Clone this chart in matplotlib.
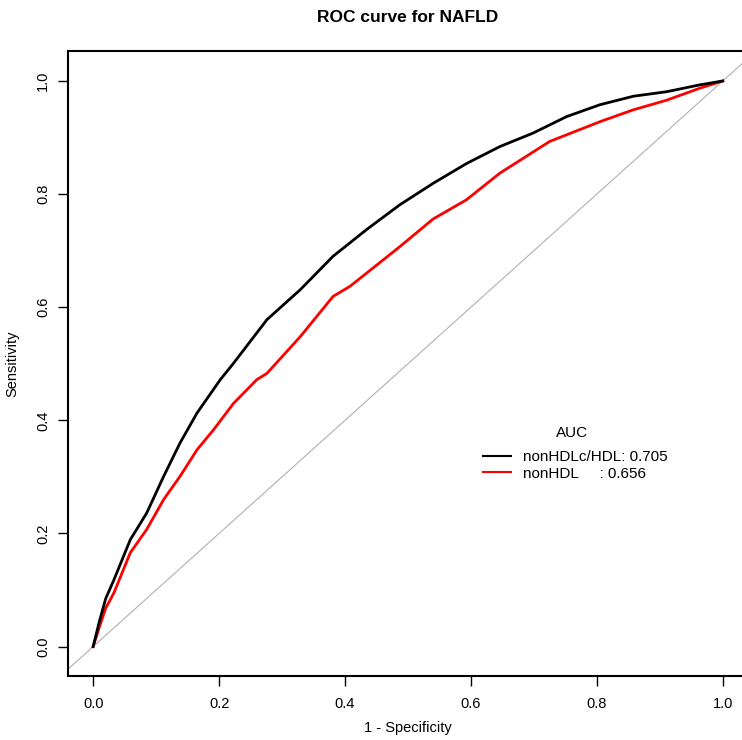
import numpy as np
import matplotlib.pyplot as plt

plt.rcParams['font.family'] = ['Liberation Sans', 'DejaVu Sans']

# ROC points (1 - specificity, sensitivity)
fpr_ratio = [0.0, 0.010, 0.020, 0.033, 0.059, 0.085, 0.112, 0.138, 0.165, 0.202, 0.223,
             0.276, 0.329, 0.381, 0.434, 0.487, 0.540, 0.593, 0.646, 0.699, 0.752,
             0.805, 0.858, 0.911, 0.963, 1.0]
tpr_ratio = [0.0, 0.045, 0.085, 0.118, 0.189, 0.236, 0.301, 0.360, 0.413, 0.472, 0.501,
             0.578, 0.631, 0.690, 0.737, 0.781, 0.819, 0.854, 0.884, 0.908, 0.937,
             0.958, 0.973, 0.981, 0.993, 1.0]

fpr_nonhdl = [0.0, 0.010, 0.020, 0.033, 0.059, 0.085, 0.112, 0.138, 0.165, 0.191, 0.223,
              0.260, 0.276, 0.329, 0.381, 0.408, 0.434, 0.487, 0.540, 0.593, 0.646,
              0.725, 0.805, 0.858, 0.911, 0.963, 1.0]
tpr_nonhdl = [0.0, 0.035, 0.068, 0.095, 0.166, 0.207, 0.260, 0.301, 0.348, 0.383, 0.430,
              0.472, 0.483, 0.548, 0.619, 0.637, 0.660, 0.707, 0.756, 0.790, 0.837,
              0.893, 0.928, 0.949, 0.966, 0.987, 1.0]

labels = ['nonHDLc/HDL: 0.705', 'nonHDL     : 0.656']
colors = ['black', 'red']
ticks = [0.0, 0.2, 0.4, 0.6, 0.8, 1.0]
ticklabels = ['0.0', '0.2', '0.4', '0.6', '0.8', '1.0']

fig = plt.figure(figsize=(7.42, 7.40), dpi=100)
ax = fig.add_axes([0.0916, 0.0865, 0.9164, 0.8446])

ax.axline((0, 0), (1, 1), color='#b0b0b0', lw=0.8, zorder=1)
ax.plot(fpr_ratio, tpr_ratio, color=colors[0], lw=2, label=labels[0], zorder=3)
ax.plot(fpr_nonhdl, tpr_nonhdl, color=colors[1], lw=2, label=labels[1], zorder=2)

ax.set_xlim(-0.04, 1.04)
ax.set_ylim(-0.052, 1.053)
ax.set_xticks(ticks)
ax.set_yticks(ticks)
ax.set_xticklabels(ticklabels)
ax.set_yticklabels(ticklabels, rotation=90, va='center')
ax.tick_params(length=7, width=1, labelsize=10.5)
ax.tick_params(axis='x', pad=8)
ax.tick_params(axis='y', pad=6)

for s in ax.spines.values():
    s.set_linewidth(1.5)

ax.set_xlabel('1 - Specificity', fontsize=10.5, labelpad=7)
ax.set_ylabel('Sensitivity', fontsize=10.5, labelpad=12)
ax.set_title('ROC curve for NAFLD', fontsize=12.5, fontweight='bold', pad=21)

ax.text(0.760, 0.378, 'AUC', fontsize=11, ha='center', va='center')
leg = ax.legend(loc='upper left', bbox_to_anchor=(0.619, 0.347), bbox_transform=ax.transData,
                frameon=False, fontsize=11, borderpad=0, borderaxespad=0,
                handlelength=1.85, handletextpad=0.78, labelspacing=0.15)
for line in leg.get_lines():
    line.set_linewidth(1.5)

plt.savefig('out.png', dpi=100)
plt.close('all')
